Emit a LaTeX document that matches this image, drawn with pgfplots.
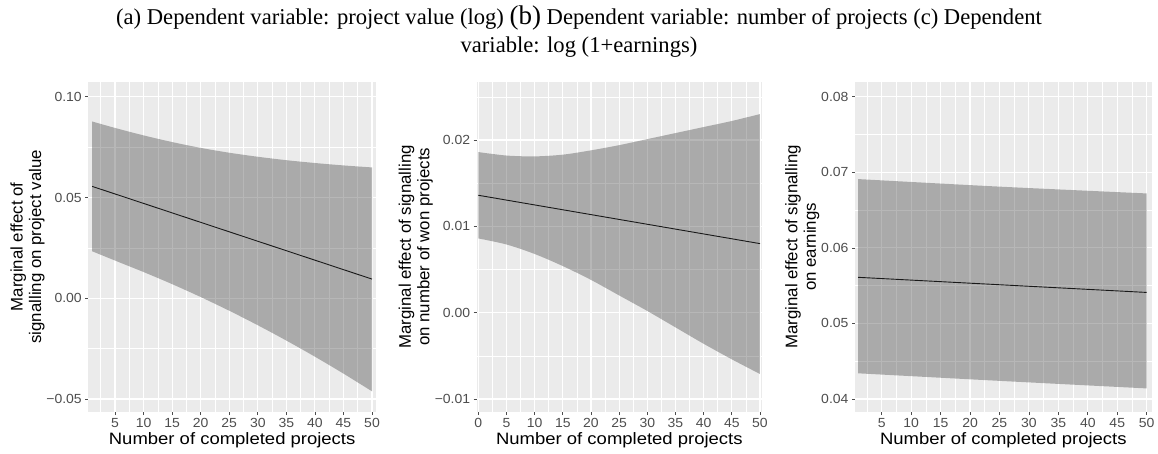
\documentclass[border=0pt]{standalone}
\usepackage{fontspec}
\setmainfont{Liberation Serif}
\newfontfamily\tk{Liberation Sans}[FakeStretch=1.06]
\newfontfamily\xl{Liberation Sans}[FakeStretch=1.12]
\newfontfamily\lb{Liberation Sans}
\usepackage{pgfplots}
\pgfplotsset{compat=1.18}
\usepgfplotslibrary{fillbetween}
\definecolor{panelbg}{HTML}{EBEBEB}
\definecolor{tickgray}{HTML}{4D4D4D}
\definecolor{bandcol}{HTML}{333333}

\pgfplotstableread{
x upper lower
1  0.0877  0.0233
5  0.0845  0.0187
10 0.0808  0.0130
15 0.0775  0.0070
20 0.0746  0.0006
25 0.0722 -0.0062
30 0.0702 -0.0134
35 0.0685 -0.0210
40 0.0671 -0.0290
45 0.0659 -0.0374
50 0.0649 -0.0462
}\bandA
\pgfplotstableread{
x y
1  0.0555
50 0.0095
}\lineA
\pgfplotstableread{
x upper lower
0  0.0186  0.0086
5  0.0182  0.0079
10 0.0181  0.0068
15 0.0183  0.0054
20 0.0188  0.0038
25 0.0194  0.0020
30 0.0201  0.0002
35 0.0208 -0.0017
40 0.0215 -0.0036
45 0.0222 -0.0054
50 0.0230 -0.0071
}\bandB
\pgfplotstableread{
x y
0  0.0136
50 0.0080
}\lineB
\pgfplotstableread{
x upper lower
1  0.0691 0.0434
25 0.0681 0.0424
50 0.0672 0.0414
}\bandC
\pgfplotstableread{
x y
1  0.0561
50 0.0541
}\lineC

\pgfplotsset{
  gg/.style={
    scale only axis,
    height=330.3pt,
    axis background/.style={fill=panelbg},
    axis line style={draw=none},
    grid=both,
    major grid style={white, line width=1.1pt},
    minor grid style={white, line width=0.55pt},
    tick align=outside,
    major tick length=3pt,
    minor tick length=0pt,
    tick pos=left,
    tick style={color=tickgray, line width=0.7pt},
    scaled y ticks=false,
    scaled x ticks=false,
    /pgf/number format/assume math mode=true,
    tick label style={font=\tk\fontsize{13.2}{15}\selectfont, text=tickgray},
    xlabel style={font=\xl\fontsize{16.5}{18}\selectfont, text=black, yshift=2pt},
    ylabel style={font=\lb\fontsize{16.8}{18.5}\selectfont, text=black, align=center},
    ylabel shift=-5pt,
    xlabel={Number of completed projects},
  },
  band/.style={fill=bandcol, fill opacity=0.35, draw=none},
  fit/.style={black!90, line width=0.9pt},
  bnd/.style={draw=none, forget plot, smooth, tension=0.5},
}

\begin{document}
\begin{tikzpicture}

\node[align=center, anchor=north, inner sep=0pt, font=\fontsize{22.6}{27.5}\selectfont] at (579pt,447pt)
 {(a) Dependent variable: project value (log) {\fontsize{27}{27.5}\selectfont (b)} Dependent variable: number of projects (c) Dependent\\variable: log (1+earnings)};

% Panel (a)
\begin{axis}[gg, at={(88.3pt,41pt)}, anchor=south west, width=287.7pt,
  xmin=0.325, xmax=50.7, ymin=-0.05645, ymax=0.10744,
  xtick={5,10,...,50}, minor xtick={2.5,7.5,...,47.5},
  ytick={-0.05,0,0.05,0.10}, yticklabels={−0.05,0.00,0.05,0.10},
  minor ytick={-0.025,0.025,0.075},
  ylabel={Marginal effect of\\signalling on project value}]
\addplot[name path=ua, bnd] table[x=x, y=upper] {\bandA};
\addplot[name path=la, bnd] table[x=x, y=lower] {\bandA};
\addplot[band] fill between[of=ua and la];
\addplot[fit] table[x=x, y=y] {\lineA};
\end{axis}

% Panel (b)
\begin{axis}[gg, at={(476.7pt,41pt)}, anchor=south west, width=285.3pt,
  xmin=-0.28, xmax=50.36, ymin=-0.0115, ymax=0.02675,
  xtick={0,5,...,50}, minor xtick={2.5,7.5,...,47.5},
  ytick={-0.01,0,0.01,0.02}, yticklabels={−0.01,0.00,0.01,0.02},
  minor ytick={-0.005,0.005,0.015,0.025},
  ylabel={Marginal effect of signalling\\on number of won projects}]
\addplot[name path=ub, bnd] table[x=x, y=upper] {\bandB};
\addplot[name path=lb, bnd] table[x=x, y=lower] {\bandB};
\addplot[band] fill between[of=ub and lb];
\addplot[fit] table[x=x, y=y] {\lineB};
\end{axis}

% Panel (c)
\begin{axis}[gg, at={(855pt,41pt)}, anchor=south west, width=296.7pt,
  xmin=0.466, xmax=50.85, ymin=0.03828, ymax=0.081985,
  xtick={5,10,...,50}, minor xtick={2.5,7.5,...,47.5},
  ytick={0.04,0.05,0.06,0.07,0.08}, yticklabels={0.04,0.05,0.06,0.07,0.08},
  minor ytick={0.045,0.055,0.065,0.075},
  ylabel={Marginal effect of signalling\\on earnings}]
\addplot[name path=uc, bnd] table[x=x, y=upper] {\bandC};
\addplot[name path=lc, bnd] table[x=x, y=lower] {\bandC};
\addplot[band] fill between[of=uc and lc];
\addplot[fit] table[x=x, y=y] {\lineC};
\end{axis}

\pgfresetboundingbox
\path[use as bounding box] (0,0) rectangle (1158pt,453pt);
\end{tikzpicture}
\end{document}
